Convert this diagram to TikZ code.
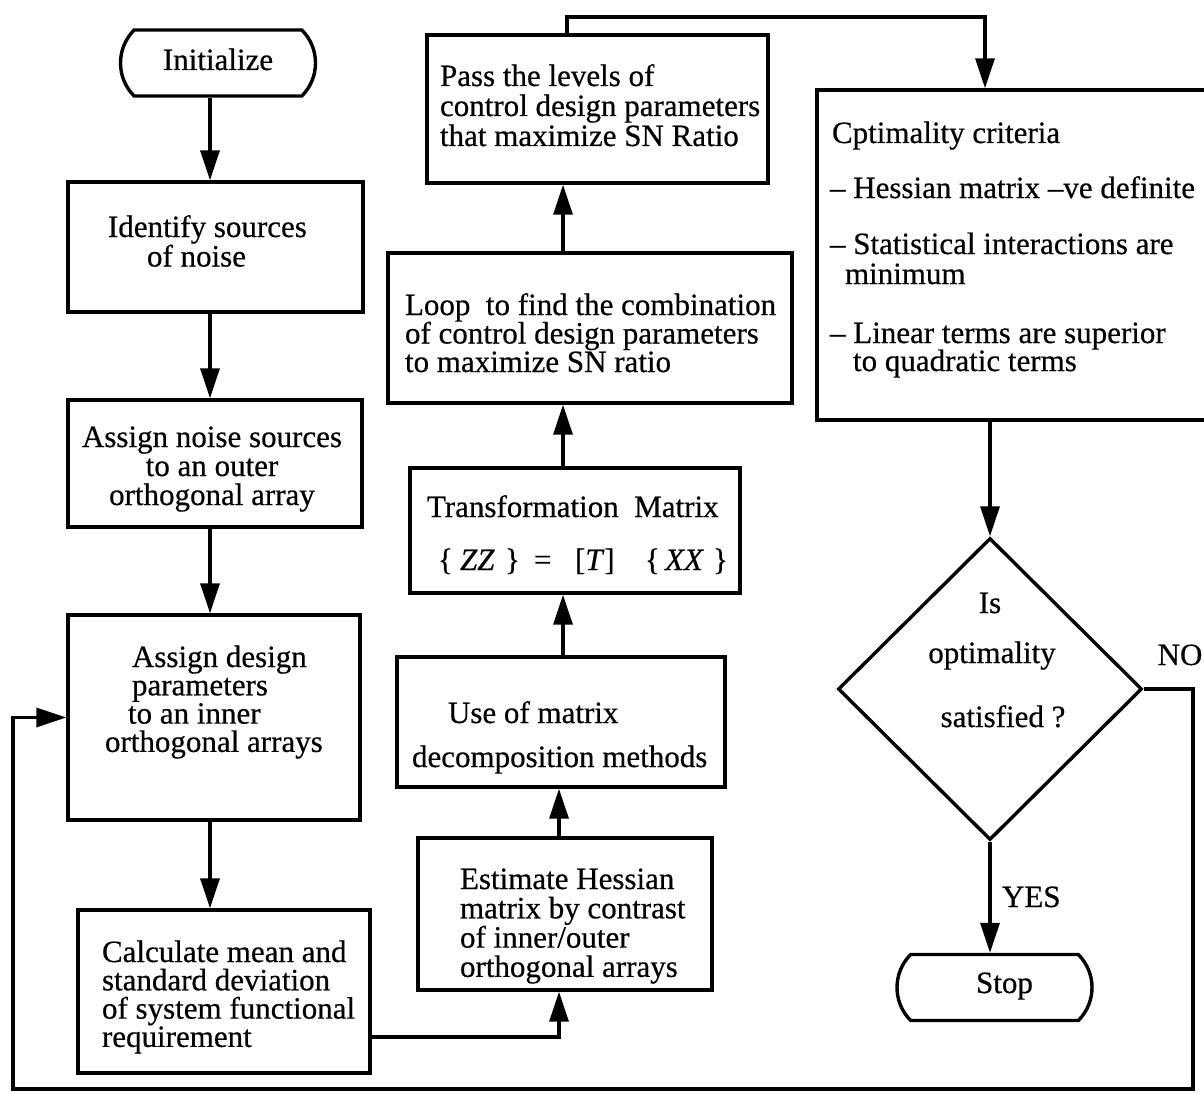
\documentclass[tikz,border=0pt]{standalone}
\usepackage{fontspec}
\setmainfont[FakeBold=0.5]{Liberation Serif}
\usetikzlibrary{arrows.meta,shapes.geometric,shapes.misc}
\newcommand\llines[1]{\vtop{\halign{##\hfil\cr#1}}}
\newcommand\clines[1]{\vtop{\halign{\hfil##\hfil\cr#1}}}
\begin{document}
\begin{tikzpicture}[x=1pt,y=-1pt,
  box/.style={draw, rectangle, inner sep=0pt, line width=3.4pt},
  term/.style={draw, rounded rectangle, rounded rectangle arc length=90, inner sep=0pt,
     minimum width=195pt, minimum height=66pt, line width=3.4pt, font=\fontsize{31}{28.5}\selectfont},
  txt/.style={inner sep=0pt, outer sep=0pt, anchor=base west, font=\fontsize{31}{28.5}\selectfont},
  ctxt/.style={txt, anchor=base},
  arr/.style={line width=3.4pt, -{Triangle[width=19pt,length=30pt]}},
  ln/.style={line width=3.4pt}]

\clip (0,0) rectangle (1204,1094);

% ---------- left column
\node[term, text height=21pt, text depth=7pt] (init) at (218,63) {Initialize};
\node[box, minimum width=295pt, minimum height=130pt] (ident) at (215.5,247) {};
\node[box, minimum width=294pt, minimum height=127pt] (noise) at (215,463.5) {};
\node[box, minimum width=292pt, minimum height=205pt] (design) at (214,717.5) {};
\node[box, minimum width=292pt, minimum height=163pt] (calc) at (224,991.5) {};

% ---------- middle column
\node[box, minimum width=341pt, minimum height=148pt] (pass) at (597.5,109) {};
\node[box, minimum width=404pt, minimum height=150pt] (loop) at (590,328) {};
\node[box, minimum width=330pt, minimum height=125pt] (trans) at (575,530.5) {};
\node[box, minimum width=328pt, minimum height=130pt] (use) at (561,722) {};
\node[box, minimum width=294pt, minimum height=152pt] (est) at (565,914) {};

% ---------- right column
\node[box, minimum width=398pt, minimum height=330pt] (opt) at (1016,255) {};
\node[diamond, draw, line width=3.4pt, inner sep=0pt, minimum width=304pt, minimum height=302pt] (dec) at (990,689) {};
\node[term, text height=21pt, text depth=10pt] (stop) at (994.5,987.5) {\kern20pt Stop};

% ---------- texts
\node[txt] (tident) at (108,237) {\llines{Identify sources\cr\kern39pt of noise\cr}};
\node[ctxt, font=\fontsize{31}{29}\selectfont] (tnoise) at (212,447) {\clines{Assign noise sources\cr to an outer\cr orthogonal array\cr}};
\node[txt, font=\fontsize{31}{28.3}\selectfont] (tdesign) at (105,667) {\llines{\kern27pt Assign design\cr\kern27pt parameters\cr\kern23pt to an inner\cr orthogonal arrays\cr}};
\node[txt, font=\fontsize{31}{28.3}\selectfont] (tcalc) at (102,962) {\llines{Calculate mean and\cr standard deviation\cr of system functional\cr requirement\cr}};

\node[txt, font=\fontsize{31}{30}\selectfont] (tpass) at (440,86) {\llines{Pass the levels of\cr control design parameters\cr that maximize SN Ratio\cr}};
\node[txt] (tloop) at (405,315) {\llines{Loop\ \ to find the combination\cr of control design parameters\cr to maximize SN ratio\cr}};
\node[txt] (ttrans) at (427,517) {Transformation\ \ Matrix};
\node[txt] (teq) at (438,570) {\rlap{\{}\kern22pt\rlap{\textit{ZZ}}\kern45pt\rlap{\}}\kern29pt\rlap{=}\kern41pt\rlap{[\textit{T}]}\kern70pt\rlap{\{}\kern20pt\rlap{\textit{XX}}\kern48pt\}};
\node[txt] (tuse) at (412,723) {\llines{\kern36pt Use of matrix\cr\noalign{\vskip15.5pt}decomposition methods\cr}};
\node[txt, font=\fontsize{31}{29.3}\selectfont] (test) at (460,889) {\llines{Estimate Hessian\cr matrix by contrast\cr of inner/outer\cr orthogonal arrays\cr}};

\node[txt] (topt) at (830,143) {\llines{\kern2pt Cptimality criteria\cr
  \noalign{\vskip25.5pt}– Hessian matrix –ve definite\cr
  \noalign{\vskip27.5pt}– Statistical interactions are\cr
  \noalign{\vskip1.5pt}\kern15pt minimum\cr
  \noalign{\vskip30.5pt}– Linear terms are superior\cr
  \noalign{\vskip-0.5pt}\kern23pt to quadratic terms\cr}};

\node[ctxt] (tis) at (990,613) {Is};
\node[ctxt] (topty) at (992,663) {optimality};
\node[ctxt] (tsat) at (1003,727) {satisfied ?};
\node[ctxt] (tno) at (1180,665) {NO};
\node[txt] (tyes) at (1002,907) {YES};

% ---------- helper coordinates
\coordinate (cl) at (210,0);
\coordinate (cm2) at (559,0);
\coordinate (cm) at (563,0);
\coordinate (cp) at (567,0);
\coordinate (ctop) at (0,17);
\coordinate (co) at (985,0);
\coordinate (cr) at (1193,0);
\coordinate (cb) at (0,1089);
\coordinate (cleft) at (13,0);

% ---------- connectors
\draw[arr] (init.south -| cl) -- (ident.north -| cl);
\draw[arr] (ident.south -| cl) -- (noise.north -| cl);
\draw[arr] (noise.south -| cl) -- (design.north -| cl);
\draw[arr] (design.south -| cl) -- (calc.north -| cl);
\draw[arr] ([yshift=-45.5pt]calc.east) -| (est.south -| cm2);
\draw[arr] (est.north -| cm2) -- (use.south -| cm2);
\draw[arr] (use.north -| cm) -- (trans.south -| cm);
\draw[arr] (trans.north -| cm) -- (loop.south -| cm);
\draw[arr] (loop.north -| cm) -- (pass.south -| cm);
\draw[arr] (pass.north -| cp) -- (cp |- ctop) -| (opt.north -| co);
\draw[arr] (opt.south -| dec.north) -- (dec.north);
\draw[arr] (dec.south) -- (stop.north -| dec.south);
\draw[arr] (dec.east) -| (cr |- cb) -| (cleft |- design.west) -- (design.west);
\end{tikzpicture}
\end{document}
